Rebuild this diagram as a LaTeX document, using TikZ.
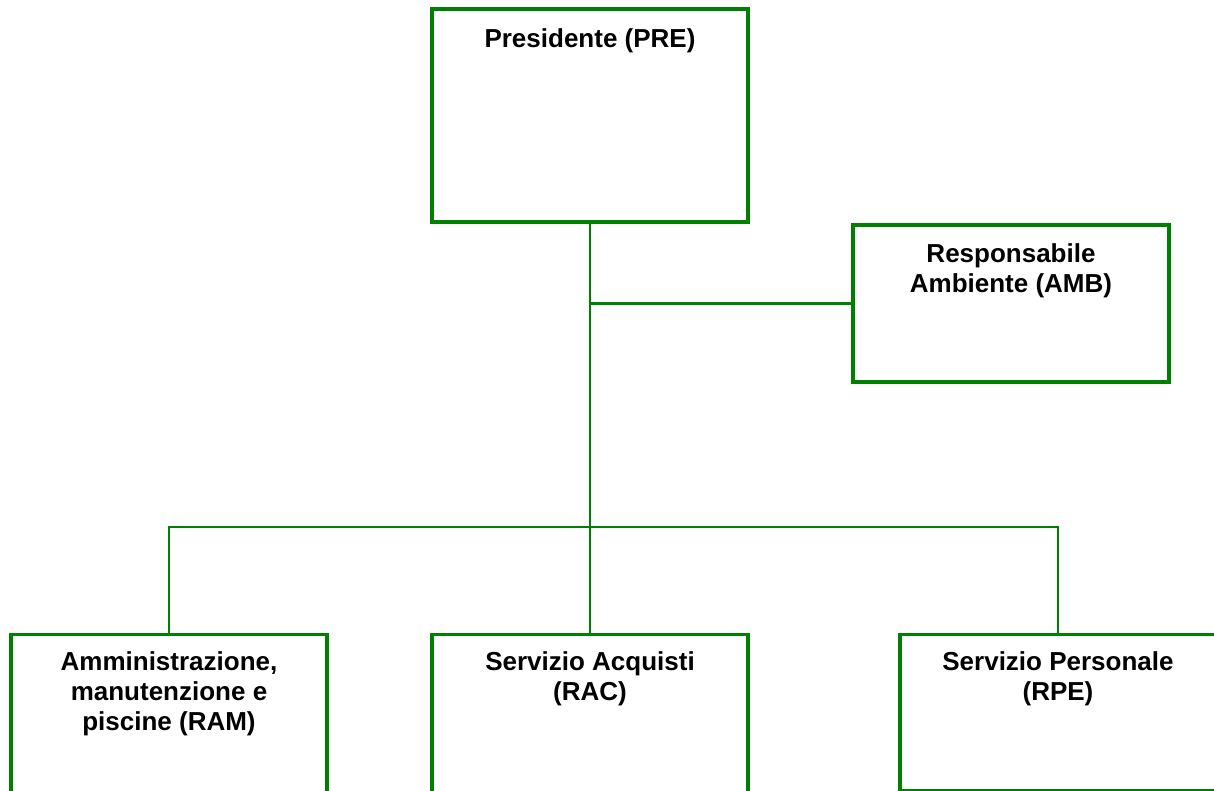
\documentclass[tikz,border=0pt]{standalone}
\usepackage{fontspec}
\setmainfont{Liberation Sans}
\usetikzlibrary{positioning,calc}
\definecolor{orggreen}{RGB}{0,128,0}
\tikzset{%
    % boxes of the chart
    unit/.style = {
        rectangle, draw=orggreen, line width=2.6pt,
        minimum width=237pt, inner sep=0pt
    },
    title/.style = {
        anchor=north, inner sep=0pt, align=center,
        font=\fontsize{19.5}{22.5}\selectfont\bfseries
    },
    link/.style = {draw=orggreen, line width=2pt}
}
\begin{document}
\begin{tikzpicture}[x=0.75pt, y=-0.75pt]
    \useasboundingbox (0,0) rectangle (1214,791);
    \clip (0,0) rectangle (1214,791);
    \node[unit, minimum height=159.75pt] (PRE) at (590,115.5) {};
    \node[unit, minimum height=117.75pt] (AMB) at (1011,303.5) {};
    \node[unit, minimum height=159.75pt, anchor=north] (RAM) at (169,633) {};
    \node[unit, minimum height=159.75pt, anchor=north] (RAC) at (590,633) {};
    \node[unit, minimum height=117pt, anchor=north] (RPE) at (1058,633) {};
    \node[title] (PREt) at ([yshift=-16pt]PRE.north) {Presidente (PRE)};
    \node[title] (AMBt) at ([yshift=-15pt]AMB.north) {Responsabile\\Ambiente (AMB)};
    \node[title] (RAMt) at ([yshift=-14pt]RAM.north) {Amministrazione,\\manutenzione e\\piscine (RAM)};
    \node[title] (RACt) at ([yshift=-14pt]RAC.north) {Servizio Acquisti\\(RAC)};
    \node[title] (RPEt) at ([yshift=-14pt]RPE.north) {Servizio Personale\\(RPE)};
    % connectors
    \coordinate (bus) at (590,527);
    \draw[link] (PRE.south) -- (RAC.north);
    \draw[link] (PRE.south |- AMB.west) -- (AMB.west);
    \draw[link] (RAM.north) -- (RAM.north |- bus) -- (RPE.north |- bus) -- (RPE.north);
\end{tikzpicture}
\end{document}
